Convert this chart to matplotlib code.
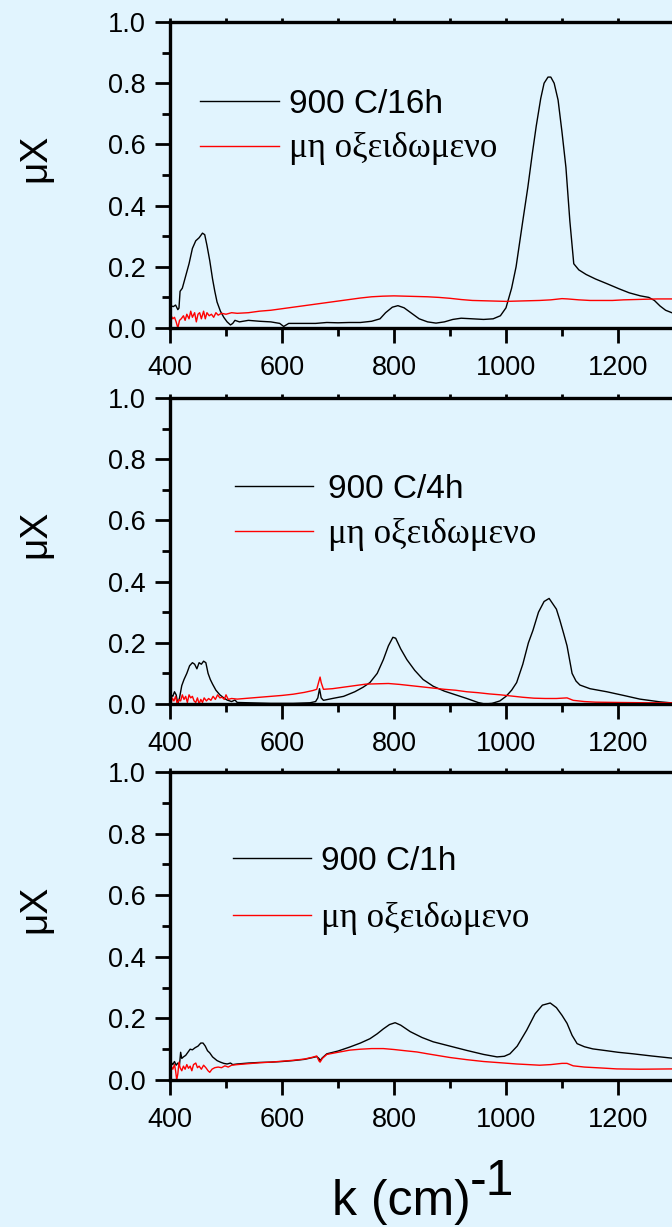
import numpy as np
import matplotlib
matplotlib.use('Agg')
import matplotlib.pyplot as plt
from matplotlib.ticker import MultipleLocator

bg = '#E1F4FE'

# ---- 900 C/16h ----
x16 = [402, 406, 410, 414, 416, 418, 422, 428, 434, 440, 446, 452, 458, 462, 466, 471, 476, 480, 484, 490,
       496, 502, 508, 512, 516, 524, 540, 560, 580, 596, 603, 612, 640, 660, 680, 700, 720, 740, 760, 775,
       785, 797, 807, 818, 830, 845, 860, 875, 890, 905, 920, 940, 960, 977, 990, 1000, 1010, 1018, 1030, 1039,
       1047, 1054, 1062, 1068, 1075, 1080, 1086, 1093, 1100, 1107, 1114, 1121, 1130, 1143, 1160, 1180, 1202, 1220, 1240, 1255,
       1265, 1275, 1285, 1296, 1310]
y16 = [0.072, 0.07, 0.075, 0.06, 0.065, 0.12, 0.13, 0.17, 0.21, 0.26, 0.285, 0.295, 0.31, 0.305, 0.27, 0.22, 0.16, 0.12, 0.085, 0.055,
       0.035, 0.02, 0.01, 0.015, 0.025, 0.02, 0.025, 0.022, 0.02, 0.015, 0.005, 0.015, 0.015, 0.015, 0.018, 0.017, 0.018, 0.018, 0.022, 0.03,
       0.05, 0.068, 0.073, 0.066, 0.05, 0.03, 0.02, 0.016, 0.02, 0.028, 0.032, 0.03, 0.028, 0.03, 0.04, 0.066, 0.13, 0.2, 0.35, 0.46,
       0.57, 0.66, 0.75, 0.80, 0.82, 0.82, 0.80, 0.745, 0.64, 0.525, 0.35, 0.21, 0.19, 0.175, 0.16, 0.145, 0.128, 0.115, 0.105, 0.10,
       0.09, 0.072, 0.058, 0.05, 0.045]

xr1 = [402, 405, 408, 411, 414, 417, 420, 424, 427, 430, 434, 437, 440, 444, 447, 450, 453, 456, 460, 463,
       466, 470, 474, 478, 482, 486, 492, 500, 510, 520, 540, 560, 580, 600, 620, 640, 660, 680, 700, 720,
       740, 760, 780, 800, 820, 840, 860, 880, 900, 920, 940, 960, 980, 1000, 1020, 1040, 1060, 1080, 1100, 1110,
       1130, 1150, 1170, 1190, 1210, 1230, 1250, 1270, 1296, 1310]
yr1 = [0.04, 0.03, 0.035, 0.02, 0.0, 0.025, 0.03, 0.04, 0.025, 0.045, 0.03, 0.055, 0.035, 0.05, 0.02, 0.045, 0.05, 0.03, 0.055, 0.03,
       0.05, 0.04, 0.045, 0.035, 0.05, 0.042, 0.048, 0.045, 0.05, 0.048, 0.05, 0.055, 0.058, 0.063, 0.068, 0.073, 0.078, 0.083, 0.088, 0.093,
       0.098, 0.102, 0.104, 0.105, 0.104, 0.103, 0.102, 0.10, 0.097, 0.093, 0.09, 0.089, 0.088, 0.087, 0.088, 0.089, 0.09, 0.092, 0.096, 0.095,
       0.092, 0.09, 0.09, 0.09, 0.092, 0.093, 0.094, 0.095, 0.095, 0.095]

# ---- 900 C/4h ----
x4 = [402, 405, 408, 411, 414, 417, 421, 425, 430, 435, 440, 444, 448, 452, 456, 460, 464, 468, 472, 476,
      482, 489, 496, 502, 510, 516, 520, 540, 580, 620, 650, 660, 664, 667, 670, 674, 690, 710, 730, 745,
      757, 770, 781, 790, 798, 803, 812, 823, 837, 852, 870, 890, 910, 930, 950, 962, 975, 989, 1000, 1010,
      1019, 1030, 1040, 1048, 1058, 1068, 1077, 1090, 1096, 1103, 1109, 1114, 1118, 1125, 1132, 1150, 1180, 1210, 1239, 1275,
      1300, 1310]
y4 = [0.03, 0.025, 0.04, 0.03, 0.0, 0.02, 0.06, 0.08, 0.10, 0.125, 0.135, 0.13, 0.115, 0.135, 0.13, 0.14, 0.135, 0.10, 0.08, 0.065,
      0.045, 0.03, 0.02, 0.013, 0.008, 0.013, 0.005, 0.004, 0.002, 0.002, 0.004, 0.008, 0.02, 0.05, 0.02, 0.012, 0.018, 0.025, 0.04, 0.055,
      0.07, 0.10, 0.145, 0.19, 0.218, 0.215, 0.18, 0.145, 0.11, 0.08, 0.058, 0.042, 0.03, 0.018, 0.005, 0.0, 0.002, 0.01, 0.025, 0.045,
      0.07, 0.13, 0.20, 0.24, 0.30, 0.335, 0.345, 0.31, 0.275, 0.23, 0.19, 0.14, 0.10, 0.075, 0.062, 0.05, 0.04, 0.028, 0.016, 0.007,
      0.003, 0.002]

xr2 = [402, 404, 407, 410, 413, 416, 419, 422, 425, 428, 431, 434, 437, 440, 443, 446, 449, 452, 455, 458,
       461, 465, 469, 473, 477, 481, 485, 489, 493, 497, 500, 504, 510, 520, 540, 560, 580, 600, 620, 640,
       655, 662, 666, 668, 670, 674, 690, 710, 730, 750, 770, 790, 810, 830, 850, 870, 890, 910, 930, 950,
       970, 990, 1010, 1030, 1050, 1070, 1090, 1109, 1120, 1140, 1160, 1200, 1250, 1310]
yr2 = [0.0, 0.02, 0.01, 0.025, 0.0, 0.015, 0.01, 0.03, 0.015, 0.025, 0.005, 0.03, 0.02, 0.025, 0.01, 0.005, 0.02, 0.0, 0.015, 0.005,
       0.02, 0.01, 0.018, 0.012, 0.025, 0.015, 0.03, 0.02, 0.022, 0.015, 0.03, 0.015, 0.018, 0.016, 0.019, 0.022, 0.025, 0.028, 0.032, 0.038,
       0.044, 0.048, 0.075, 0.088, 0.07, 0.048, 0.05, 0.055, 0.06, 0.065, 0.066, 0.067, 0.064, 0.06, 0.056, 0.052, 0.048, 0.045, 0.04, 0.037,
       0.033, 0.03, 0.026, 0.022, 0.019, 0.018, 0.018, 0.02, 0.012, 0.008, 0.006, 0.005, 0.004, 0.004]

# ---- 900 C/1h ----
x1 = [402, 405, 408, 411, 414, 417, 419, 421, 424, 428, 432, 436, 440, 445, 450, 455, 459, 463, 467, 471,
      476, 484, 490, 496, 502, 508, 512, 520, 540, 560, 580, 600, 620, 640, 655, 662, 666, 668, 672, 680,
      700, 721, 740, 757, 770, 781, 792, 802, 812, 829, 850, 870, 900, 930, 960, 984, 997, 1007, 1020, 1037,
      1052, 1065, 1079, 1090, 1100, 1109, 1118, 1127, 1140, 1155, 1180, 1200, 1227, 1260, 1296, 1310]
y1 = [0.058, 0.05, 0.06, 0.048, 0.055, 0.05, 0.09, 0.07, 0.075, 0.08, 0.09, 0.10, 0.098, 0.105, 0.11, 0.12, 0.12, 0.11, 0.095, 0.088,
      0.075, 0.063, 0.058, 0.054, 0.052, 0.055, 0.05, 0.052, 0.055, 0.057, 0.058, 0.06, 0.063, 0.067, 0.073, 0.076, 0.07, 0.063, 0.072, 0.085,
      0.094, 0.107, 0.12, 0.134, 0.15, 0.166, 0.18, 0.186, 0.178, 0.157, 0.138, 0.124, 0.11, 0.096, 0.083, 0.075, 0.077, 0.085, 0.11, 0.162,
      0.215, 0.243, 0.25, 0.235, 0.21, 0.184, 0.145, 0.118, 0.108, 0.101, 0.095, 0.09, 0.085, 0.078, 0.071, 0.07]

xr3 = [402, 405, 408, 410, 412, 414, 416, 418, 421, 424, 427, 430, 433, 436, 439, 442, 446, 449, 452, 456,
       460, 464, 468, 471, 475, 480, 486, 492, 498, 504, 510, 520, 540, 560, 580, 600, 620, 640, 655, 662,
       666, 668, 672, 680, 700, 721, 740, 760, 781, 800, 820, 841, 860, 880, 900, 930, 960, 990, 1019, 1040,
       1060, 1080, 1100, 1109, 1120, 1140, 1170, 1198, 1240, 1296, 1310]
yr3 = [0.045, 0.035, 0.05, 0.03, 0.0, 0.02, 0.058, 0.04, 0.03, 0.045, 0.035, 0.05, 0.038, 0.045, 0.03, 0.05, 0.055, 0.04, 0.045, 0.035,
       0.048, 0.04, 0.03, 0.025, 0.035, 0.04, 0.042, 0.04, 0.046, 0.042, 0.048, 0.05, 0.053, 0.056, 0.058, 0.061, 0.064, 0.068, 0.074, 0.078,
       0.062, 0.058, 0.07, 0.083, 0.09, 0.097, 0.10, 0.102, 0.102, 0.099, 0.095, 0.091, 0.085, 0.079, 0.073, 0.066, 0.06, 0.056, 0.052, 0.05,
       0.048, 0.05, 0.054, 0.054, 0.046, 0.042, 0.039, 0.036, 0.035, 0.036, 0.036]

labels = ['900 C/16h', '900 C/4h', '900 C/1h']
ref_label = 'μη οξειδωμενο'

panels = [(x16, y16, xr1, yr1), (x4, y4, xr2, yr2), (x1, y1, xr3, yr3)]

# axes placement in pixels: (top, bottom) of each panel
H, W = 1227, 672
rows = [(22, 328), (398, 704), (772, 1080)]
# legend: anchor x, anchor y, label spacing, text pad
leg_pos = [(0.054, 0.782, 0.38, 0.3), (0.116, 0.752, 0.38, 0.45), (0.1125, 0.76, 0.74, 0.3)]

plt.rcParams['font.family'] = ['Liberation Sans', 'DejaVu Sans']

fig = plt.figure(figsize=(W / 100, H / 100), dpi=100, facecolor=bg)

for i, (xb, yb, xr, yr) in enumerate(panels):
    top, bot = rows[i]
    ax = fig.add_axes([170 / W, 1 - bot / H, 560 / W, (bot - top) / H])
    ax.set_facecolor(bg)
    lb, = ax.plot(xb, yb, color='black', lw=1.0, label=labels[i])
    lr, = ax.plot(xr, yr, color='red', lw=1.0, label=ref_label)
    ax.set_xlim(400, 1400)
    ax.set_ylim(0, 1.0)
    ax.xaxis.set_minor_locator(MultipleLocator(100))
    ax.yaxis.set_minor_locator(MultipleLocator(0.1))
    ax.set_xticks([400, 600, 800, 1000, 1200])
    ax.set_yticks([0.0, 0.2, 0.4, 0.6, 0.8, 1.0])
    ax.set_yticklabels(['0.0', '0.2', '0.4', '0.6', '0.8', '1.0'])
    for s in ['left', 'bottom', 'top']:
        ax.spines[s].set_linewidth(2.4)
    ax.spines['right'].set_visible(False)
    ax.tick_params(which='major', direction='out', length=10.5, width=2, labelsize=19.5, pad=7)
    ax.tick_params(which='minor', direction='out', length=5.5, width=2)
    ax.tick_params(axis='x', which='both', top=True)
    ax.tick_params(axis='x', which='major', pad=9)
    ax.tick_params(axis='y', which='both', right=False)
    # short ticks on the top spine
    for t in ax.xaxis.get_major_ticks() + ax.xaxis.get_minor_ticks():
        t.tick2line.set_markersize(3)

    fig.text(35 / W, 1 - ((top + bot) / 2 - 17) / H, 'μX', rotation=90, ha='center', va='center', fontsize=28)

    lx, ly, sp, tp = leg_pos[i]
    leg = ax.legend(handles=[lb, lr], loc='upper left', bbox_to_anchor=(lx, ly), frameon=False,
                    fontsize=24, handlelength=2.35, handletextpad=tp, borderpad=0, borderaxespad=0,
                    labelspacing=sp)
    leg.get_texts()[1].set_fontfamily(['Liberation Serif', 'DejaVu Serif'])
    leg.get_texts()[1].set_fontsize(25)

fig.text(332 / W, 1 - 1215 / H, 'k (cm)', fontsize=36, ha='left', va='baseline')
fig.text(470 / W, 1 - 1195 / H, '-1', fontsize=36, ha='left', va='baseline')

fig.savefig('out.png', dpi=100, facecolor=bg)
